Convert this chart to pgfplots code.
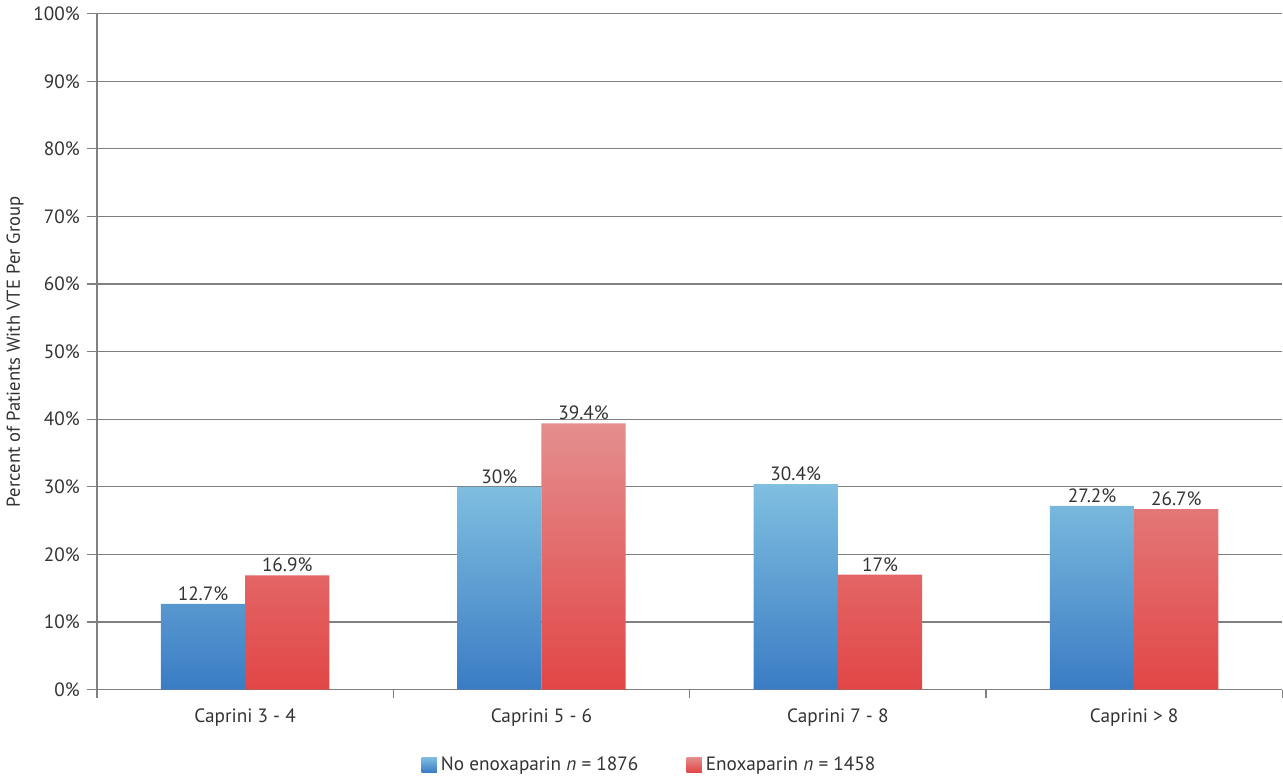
\documentclass[border=0pt]{standalone}
\usepackage{pgfplots}
\pgfplotsset{compat=1.18}
\usepackage{fontspec}
\setmainfont{PT Sans}
\definecolor{btop}{HTML}{80BFE0}
\definecolor{bbot}{HTML}{3A7CC4}
\definecolor{rtop}{HTML}{E48E8E}
\definecolor{rbot}{HTML}{E24646}
\definecolor{ax}{HTML}{808080}
\definecolor{txt}{HTML}{333333}
\begin{document}
\begin{tikzpicture}
\begin{axis}[
  scale only axis,
  width=591pt, height=337pt,
  ybar=0pt, bar width=42pt,
  xmin=-0.5, xmax=3.5, ymin=0, ymax=100,
  xtick={0,1,2,3},
  xticklabels={Caprini 3 - 4, Caprini 5 - 6, Caprini 7 - 8, Caprini > 8},
  major x tick style={draw=none},
  minor xtick={-0.5,0.5,1.5,2.5,3.5},
  minor x tick style={ax, line width=0.6pt},
  minor tick length=4pt,
  ytick={0,10,...,100},
  yticklabel={\pgfmathprintnumber{\tick}\%},
  major tick length=5pt,
  tick align=outside,
  ytick style={ax, line width=0.6pt},
  ymajorgrids, grid style={ax, line width=0.6pt},
  axis x line*=bottom, axis y line*=left,
  axis line style={ax, line width=0.6pt},
  every axis plot/.append style={draw=none},
  tick label style={font=\fontsize{9.6}{11}\selectfont, text=txt},
  xticklabel style={yshift=-1pt},
  /pgf/number format/assume math mode=true,
  ylabel={Percent of Patients With VTE Per Group},
  ylabel style={font=\fontsize{9.3}{11}\selectfont, text=txt, yshift=-2pt},
  nodes near coords={\pgfmathprintnumber{\pgfplotspointmeta}\%},
  nodes near coords style={font=\fontsize{9.6}{11}\selectfont, text=txt, inner sep=1.5pt},
  legend style={at={(0.467,-0.111)}, anchor=center, draw=none, legend columns=2,
    font=\fontsize{9.6}{11}\selectfont, text=txt, inner sep=1pt,
    /tikz/every even column/.append style={column sep=22pt}},
  legend image code/.code={\fill[#1] (0pt,-3.8pt) rectangle (7.6pt,3.8pt);},
  legend cell align=left,
  clip=false,
]
\addplot[top color=btop, bottom color=bbot, draw=none] coordinates {(0,12.7) (1,30) (2,30.4) (3,27.2)};
\addplot[top color=rtop, bottom color=rbot, draw=none] coordinates {(0,16.9) (1,39.4) (2,17) (3,26.7)};
\legend{No enoxaparin \textit{n} = 1876, Enoxaparin \textit{n} = 1458}
\end{axis}
\end{tikzpicture}
\end{document}
